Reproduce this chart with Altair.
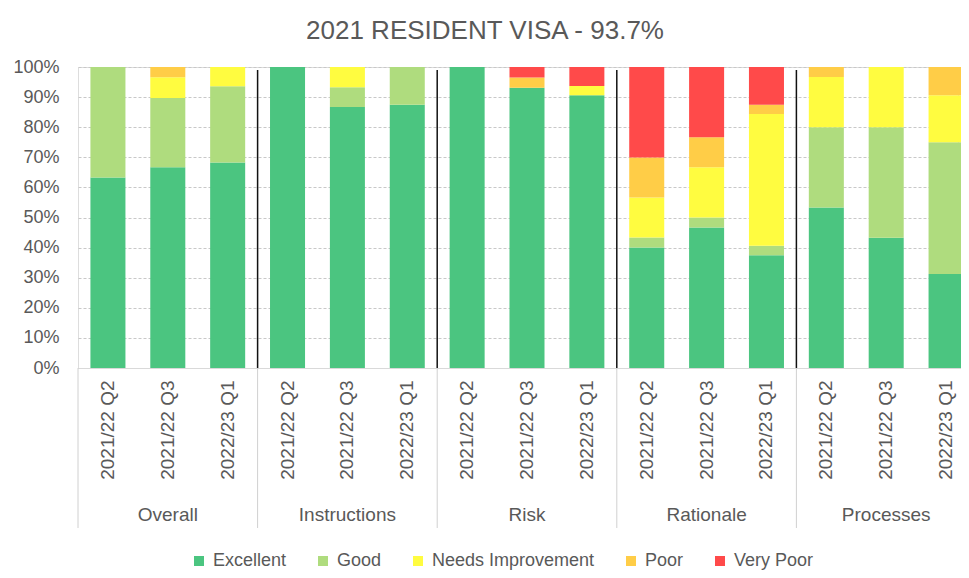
import altair as alt
import pandas as pd

groups = ["Overall", "Instructions", "Risk", "Rationale", "Processes"]
periods = ["2021/22 Q2", "2021/22 Q3", "2022/23 Q1"]
ratings = ["Excellent", "Good", "Needs Improvement", "Poor", "Very Poor"]
colors = ["#4BC580", "#AFDC7E", "#FFFC40", "#FFCD47", "#FF4A4A"]

excellent = [63.3, 66.7, 68.3, 100.0, 86.7, 87.5, 100.0, 93.1, 90.6, 40.0, 46.7, 37.5, 53.3, 43.3, 31.3]
good      = [36.7, 23.0, 25.3, 0.0, 6.6, 12.5, 0.0, 0.0, 0.0, 3.3, 3.3, 3.1, 26.7, 36.7, 43.8]
needs_imp = [0.0, 6.9, 6.4, 0.0, 6.7, 0.0, 0.0, 0.0, 3.1, 13.3, 16.7, 43.8, 16.7, 20.0, 15.6]
poor      = [0.0, 3.4, 0.0, 0.0, 0.0, 0.0, 0.0, 3.45, 0.0, 13.3, 10.0, 3.1, 3.3, 0.0, 9.4]
very_poor = [0.0, 0.0, 0.0, 0.0, 0.0, 0.0, 0.0, 3.45, 6.3, 30.0, 23.3, 12.5, 0.0, 0.0, 0.0]

series = [excellent, good, needs_imp, poor, very_poor]

keys = [g + "|" + p for g in groups for p in periods]
rows = []
for i, k in enumerate(keys):
    for ri, r in enumerate(ratings):
        rows.append({"key": k, "rating": r, "idx": ri, "value": series[ri][i]})
df = pd.DataFrame(rows)

group_df = pd.DataFrame({"group": groups, "mid": [g + "|" + periods[1] for g in groups],
                         "first": [g + "|" + periods[0] for g in groups]})
inner_df = group_df.iloc[1:]
last_df = pd.DataFrame({"last": [keys[-1]]})

W, H = 880, 301
FONT = "Liberation Sans"
GRAY = "#595959"

xscale = alt.Scale(domain=keys, range=[0, 898], paddingInner=0, paddingOuter=0)

xaxis = alt.Axis(labelExpr="split(datum.value, '|')[1]", labelAngle=-90, labelFontSize=19,
                 labelColor=GRAY, labelFont=FONT, labelPadding=12, ticks=False, grid=False,
                 domainColor="#D9D9D9", labelLimit=300)
yaxis = alt.Axis(format=".0%", values=[i / 10 for i in range(11)], labelFontSize=18,
                 labelColor=GRAY, labelFont=FONT, labelPadding=19, ticks=False, domain=False,
                 grid=True, gridColor="#C8C8C8", gridDash=[3, 2], gridWidth=1)

bars = alt.Chart(df).mark_bar(width={"band": 0.585}).encode(
    x=alt.X("key:N", scale=xscale, axis=xaxis, title=None, sort=keys),
    y=alt.Y("value:Q", stack="normalize", scale=alt.Scale(domain=[0, 1]), axis=yaxis, title=None),
    color=alt.Color("rating:N", scale=alt.Scale(domain=ratings, range=colors),
                    legend=alt.Legend(orient="none", legendX=112, legendY=485, direction="horizontal",
                                      columns=5, title=None, symbolType="square", symbolSize=100,
                                      symbolStrokeWidth=0, labelFontSize=18, labelColor=GRAY,
                                      labelFont=FONT, columnPadding=27, labelOffset=5,
                                      labelLimit=300)),
    order=alt.Order("idx:Q", sort="ascending"),
)

separators = alt.Chart(inner_df).mark_rule(color="#111111", strokeWidth=1.5).encode(
    x=alt.X("first:N", bandPosition=0),
    y=alt.value(3), y2=alt.value(H),
)

label_lines = alt.Chart(group_df).mark_rule(color="#D0D0D0", strokeWidth=1).encode(
    x=alt.X("first:N", bandPosition=0),
    y=alt.value(H), y2=alt.value(H + 160),
)

end_line = alt.Chart(last_df).mark_rule(color="#D0D0D0", strokeWidth=1).encode(
    x=alt.X("last:N", bandPosition=1),
    y=alt.value(H), y2=alt.value(H + 160),
)

group_labels = alt.Chart(group_df).mark_text(fontSize=19, color=GRAY, font=FONT, baseline="middle").encode(
    x=alt.X("mid:N"),
    y=alt.value(448),
    text="group:N",
)

chart = alt.layer(bars, separators, label_lines, end_line, group_labels).properties(
    width=W, height=H,
    title=alt.TitleParams("2021 RESIDENT VISA - 93.7%", fontSize=26, color=GRAY, font=FONT,
                          fontWeight="normal", anchor="middle", frame="group", dx=-33, offset=14),
    autosize=alt.AutoSizeParams(type="none"),
    padding={"left": 70, "top": 59, "right": 3, "bottom": 202},
).configure_view(stroke=None).configure(background="white")

chart.save("out.html", embed_options={"renderer": "svg", "actions": False})
